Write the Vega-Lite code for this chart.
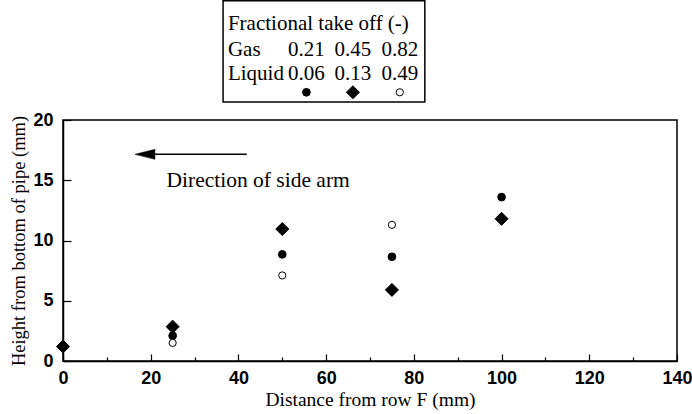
{
  "$schema": "https://vega.github.io/schema/vega-lite/v6.json",
  "width": 614,
  "height": 241,
  "autosize": {"type": "none"},
  "padding": {"left": 63, "top": 120, "right": 15, "bottom": 53},
  "background": "white",
  "config": {
    "view": {"stroke": "black", "strokeWidth": 1.5},
    "axis": {
      "domainColor": "black",
      "domainWidth": 1.5,
      "tickColor": "black",
      "tickWidth": 1.2,
      "grid": false,
      "labelFont": "Liberation Sans",
      "labelFontWeight": "bold",
      "labelFontSize": 18,
      "labelColor": "black",
      "labelOverlap": false,
      "labelFlush": false,
      "titleFont": "Liberation Serif",
      "titleFontWeight": "normal",
      "titleColor": "black"
    }
  },
  "layer": [
    {
      "data": {
        "values": [
          {"distance": 25, "height": 2.1, "series": "0.21 / 0.06"},
          {"distance": 50, "height": 8.85, "series": "0.21 / 0.06"},
          {"distance": 75, "height": 8.65, "series": "0.21 / 0.06"},
          {"distance": 100, "height": 13.6, "series": "0.21 / 0.06"},
          {"distance": 0, "height": 1.2, "series": "0.45 / 0.13"},
          {"distance": 25, "height": 2.85, "series": "0.45 / 0.13"},
          {"distance": 50, "height": 10.95, "series": "0.45 / 0.13"},
          {"distance": 75, "height": 5.9, "series": "0.45 / 0.13"},
          {"distance": 100, "height": 11.8, "series": "0.45 / 0.13"},
          {"distance": 25, "height": 1.5, "series": "0.82 / 0.49"},
          {"distance": 50, "height": 7.1, "series": "0.82 / 0.49"},
          {"distance": 75, "height": 11.3, "series": "0.82 / 0.49"}
        ]
      },
      "mark": {"type": "point", "filled": true, "stroke": "black", "strokeWidth": 1, "opacity": 1},
      "encoding": {
        "x": {
          "field": "distance",
          "type": "quantitative",
          "scale": {"domain": [0, 140], "nice": false, "zero": false},
          "axis": {
            "title": "Distance from row F  (mm)",
            "titleFontSize": 19.5,
            "values": [0, 10, 20, 30, 40, 50, 60, 70, 80, 90, 100, 110, 120, 130, 140],
            "labelExpr": "datum.value % 20 === 0 ? datum.label : ''",
            "tickSize": {"condition": {"test": "datum.value % 20 === 0", "value": -7}, "value": -4},
            "labelPadding": 15,
            "titlePadding": 0
          }
        },
        "y": {
          "field": "height",
          "type": "quantitative",
          "scale": {"domain": [0, 20], "nice": false, "zero": false},
          "axis": {
            "title": "Height from bottom of pipe (mm)",
            "titleFontSize": 18.5,
            "values": [0, 2.5, 5, 7.5, 10, 12.5, 15, 17.5, 20],
            "labelExpr": "datum.value % 5 === 0 ? datum.label : ''",
            "tickSize": {"condition": {"test": "datum.value % 5 === 0", "value": -8}, "value": -4},
            "labelPadding": 18,
            "titlePadding": 4
          }
        },
        "shape": {
          "field": "series",
          "type": "nominal",
          "scale": {"type": "ordinal", "domain": ["0.21 / 0.06", "0.45 / 0.13", "0.82 / 0.49"], "range": ["circle", "diamond", "circle"]},
          "legend": null
        },
        "fill": {
          "field": "series",
          "type": "nominal",
          "scale": {"type": "ordinal", "domain": ["0.21 / 0.06", "0.45 / 0.13", "0.82 / 0.49"], "range": ["black", "black", "white"]},
          "legend": null
        },
        "size": {
          "field": "series",
          "type": "nominal",
          "scale": {"type": "ordinal", "domain": ["0.21 / 0.06", "0.45 / 0.13", "0.82 / 0.49"], "range": [60, 170, 52]},
          "legend": null
        }
      }
    },
    {
      "data": {"values": [{}]},
      "mark": {"type": "rect", "fill": null, "fillOpacity": 0, "stroke": "black", "strokeWidth": 1.5},
      "encoding": {
        "x": {"datum": 36.5, "type": "quantitative"},
        "x2": {"datum": 82.5},
        "y": {"datum": 29.9, "type": "quantitative"},
        "y2": {"datum": 21.5}
      }
    },
    {
      "data": {"values": [{}]},
      "mark": {"type": "text", "align": "left", "baseline": "middle", "font": "Liberation Serif", "fontSize": 21, "color": "black"},
      "encoding": {
        "x": {"datum": 37.6, "type": "quantitative"},
        "y": {"datum": 28.0, "type": "quantitative"},
        "text": {"value": "Fractional take off (-)"}
      }
    },
    {
      "data": {"values": [{}]},
      "mark": {"type": "text", "align": "left", "baseline": "middle", "font": "Liberation Serif", "fontSize": 21, "lineHeight": 24, "color": "black"},
      "encoding": {
        "x": {"datum": 37.6, "type": "quantitative"},
        "y": {"datum": 25.78, "type": "quantitative"},
        "text": {"value": ["Gas", "Liquid"]}
      }
    },
    {
      "data": {"values": [{}]},
      "mark": {"type": "text", "align": "center", "baseline": "middle", "font": "Liberation Serif", "fontSize": 21, "lineHeight": 24, "color": "black"},
      "encoding": {
        "x": {"datum": 55.5, "type": "quantitative"},
        "y": {"datum": 25.78, "type": "quantitative"},
        "text": {"value": ["0.21", "0.06"]}
      }
    },
    {
      "data": {"values": [{}]},
      "mark": {"type": "text", "align": "center", "baseline": "middle", "font": "Liberation Serif", "fontSize": 21, "lineHeight": 24, "color": "black"},
      "encoding": {
        "x": {"datum": 66.1, "type": "quantitative"},
        "y": {"datum": 25.78, "type": "quantitative"},
        "text": {"value": ["0.45", "0.13"]}
      }
    },
    {
      "data": {"values": [{}]},
      "mark": {"type": "text", "align": "center", "baseline": "middle", "font": "Liberation Serif", "fontSize": 21, "lineHeight": 24, "color": "black"},
      "encoding": {
        "x": {"datum": 76.8, "type": "quantitative"},
        "y": {"datum": 25.78, "type": "quantitative"},
        "text": {"value": ["0.82", "0.49"]}
      }
    },
    {
      "data": {"values": [{}]},
      "mark": {"type": "point", "shape": "circle", "filled": true, "fill": "black", "stroke": "black", "strokeWidth": 1, "size": 60, "opacity": 1},
      "encoding": {
        "x": {"datum": 55.5, "type": "quantitative"},
        "y": {"datum": 22.3, "type": "quantitative"}
      }
    },
    {
      "data": {"values": [{}]},
      "mark": {"type": "point", "shape": "diamond", "filled": true, "fill": "black", "stroke": "black", "strokeWidth": 1, "size": 170, "opacity": 1},
      "encoding": {
        "x": {"datum": 66.1, "type": "quantitative"},
        "y": {"datum": 22.3, "type": "quantitative"}
      }
    },
    {
      "data": {"values": [{}]},
      "mark": {"type": "point", "shape": "circle", "filled": true, "fill": "white", "stroke": "black", "strokeWidth": 1, "size": 52, "opacity": 1},
      "encoding": {
        "x": {"datum": 76.8, "type": "quantitative"},
        "y": {"datum": 22.3, "type": "quantitative"}
      }
    },
    {
      "data": {"values": [{}]},
      "mark": {"type": "rule", "color": "black", "strokeWidth": 1.5},
      "encoding": {
        "x": {"datum": 18.5, "type": "quantitative"},
        "x2": {"datum": 41.9},
        "y": {"datum": 17.15, "type": "quantitative"}
      }
    },
    {
      "data": {"values": [{}]},
      "mark": {"type": "point", "shape": "M0,0L2,-0.5L2,0.5Z", "filled": true, "fill": "black", "stroke": "black", "strokeWidth": 0.5, "size": 400, "opacity": 1},
      "encoding": {
        "x": {"datum": 16.4, "type": "quantitative"},
        "y": {"datum": 17.15, "type": "quantitative"}
      }
    },
    {
      "data": {"values": [{}]},
      "mark": {"type": "text", "align": "left", "baseline": "middle", "font": "Liberation Serif", "fontSize": 21.5, "color": "black"},
      "encoding": {
        "x": {"datum": 23.6, "type": "quantitative"},
        "y": {"datum": 14.9, "type": "quantitative"},
        "text": {"value": "Direction of side arm"}
      }
    }
  ]
}
